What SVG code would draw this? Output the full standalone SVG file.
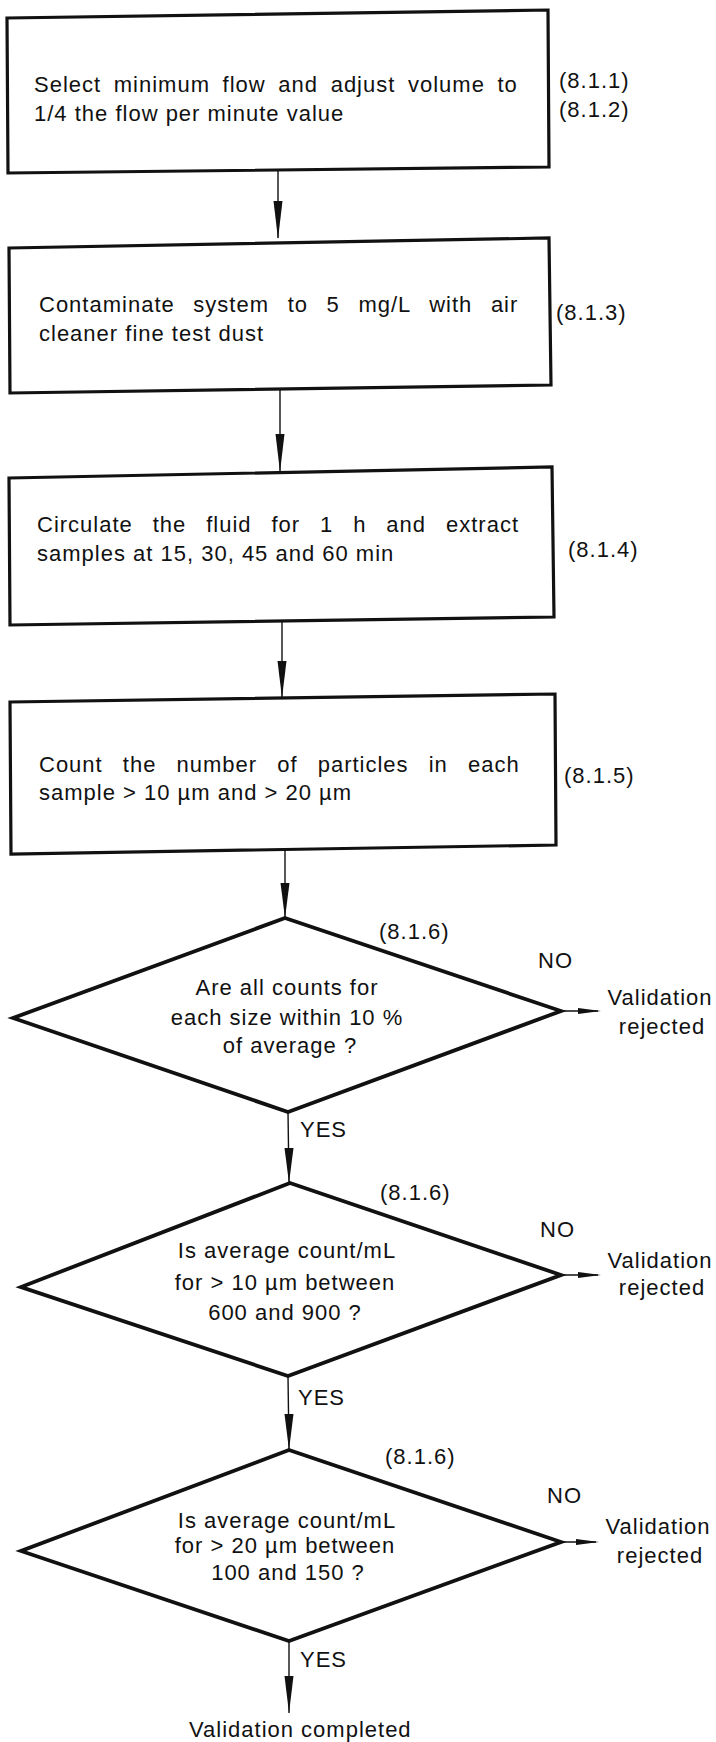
<svg xmlns="http://www.w3.org/2000/svg" width="716" height="1742" viewBox="0 0 716 1742">
<style>
text{font-family:"Liberation Sans",Arial,sans-serif;font-size:22px;fill:#111;letter-spacing:1px}
.box{fill:none;stroke:#111;stroke-width:3.2;stroke-linejoin:miter}
.dia{fill:none;stroke:#111;stroke-width:3.8;stroke-linejoin:miter}
.ln{fill:none;stroke:#111;stroke-width:1.4}
.hd{fill:#111;stroke:none}
.mid{text-anchor:middle}
</style>
<rect x="0" y="0" width="716" height="1742" fill="#fff"/>
<g id="n1">
<polygon class="box" points="7,18 548,10 549,167 8,173"/>
<text x="34" y="92" style="word-spacing:5.5px">Select minimum flow and adjust volume to</text>
<text x="34" y="121">1/4 the flow per minute value</text>
<text x="559" y="88">(8.1.1)</text>
<text x="559" y="117">(8.1.2)</text>
</g>
<g id="n2">
<polygon class="box" points="9,248 549,238 551,385 10,393"/>
<text x="39" y="312" style="word-spacing:11.5px">Contaminate system to 5 mg/L with air</text>
<text x="39" y="341">cleaner fine test dust</text>
<text x="556" y="320">(8.1.3)</text>
</g>
<g id="n3">
<polygon class="box" points="9,478 552,467 554,617 10,625"/>
<text x="37" y="532" style="word-spacing:12.8px">Circulate the fluid for 1 h and extract</text>
<text x="37" y="561">samples at 15, 30, 45 and 60 min</text>
<text x="568" y="557">(8.1.4)</text>
</g>
<g id="n4">
<polygon class="box" points="10,702 555,694 556,845 11,854"/>
<text x="39" y="772" style="word-spacing:13px">Count the number of particles in each</text>
<text x="39" y="800">sample &gt; 10 µm and &gt; 20 µm</text>
<text x="564" y="783">(8.1.5)</text>
</g>
<g id="d1">
<polygon class="dia" points="285,918 561,1011 288,1112 13,1018"/>
<text class="mid" x="287" y="995">Are all counts for</text>
<text class="mid" x="287" y="1025">each size within 10 %</text>
<text class="mid" x="290" y="1053">of average ?</text>
<text x="379" y="939">(8.1.6)</text>
<text x="538" y="968">NO</text>
</g>
<g id="r1">
<text class="mid" x="660" y="1005">Validation</text>
<text class="mid" x="662" y="1034">rejected</text>
</g>
<g id="d2">
<polygon class="dia" points="290,1183 561,1275 288,1376 21,1287"/>
<text class="mid" x="287" y="1258">Is average count/mL</text>
<text class="mid" x="285" y="1290">for &gt; 10 µm between</text>
<text class="mid" x="285" y="1320">600 and 900 ?</text>
<text x="380" y="1200">(8.1.6)</text>
<text x="540" y="1237">NO</text>
</g>
<g id="r2">
<text class="mid" x="660" y="1268">Validation</text>
<text class="mid" x="662" y="1295">rejected</text>
</g>
<g id="d3">
<polygon class="dia" points="289,1450 561,1542 289,1641 21,1551"/>
<text class="mid" x="287" y="1528">Is average count/mL</text>
<text class="mid" x="285" y="1553">for &gt; 20 µm between</text>
<text class="mid" x="288" y="1580">100 and 150 ?</text>
<text x="385" y="1464">(8.1.6)</text>
<text x="547" y="1503">NO</text>
</g>
<g id="r3">
<text class="mid" x="658" y="1534">Validation</text>
<text class="mid" x="660" y="1563">rejected</text>
</g>
<g id="end">
<text x="189" y="1737">Validation completed</text>
</g>
<g id="connectors">
<line class="ln" x1="278" y1="170" x2="278" y2="238"/>
<polygon class="hd" points="273.5,201 282.5,201 278,239"/>
<line class="ln" x1="280" y1="389" x2="280" y2="472"/>
<polygon class="hd" points="275.5,434 284.5,434 280,472"/>
<line class="ln" x1="282" y1="621" x2="282" y2="698"/>
<polygon class="hd" points="277.5,661 286.5,661 282,698"/>
<line class="ln" x1="285" y1="850" x2="285" y2="918"/>
<polygon class="hd" points="280.5,883 289.5,883 285,918"/>
<line class="ln" x1="288" y1="1112" x2="289" y2="1183"/>
<polygon class="hd" points="284.5,1148 293.5,1148 289,1183"/>
<text x="300" y="1137">YES</text>
<line class="ln" x1="288" y1="1376" x2="289" y2="1450"/>
<polygon class="hd" points="284.5,1414 293.5,1414 289,1450"/>
<text x="298" y="1405">YES</text>
<line class="ln" x1="289" y1="1641" x2="289" y2="1713"/>
<polygon class="hd" points="284.5,1676 293.5,1676 289,1713"/>
<text x="300" y="1667">YES</text>
<line class="ln" x1="561" y1="1011" x2="598" y2="1011"/>
<polygon class="hd" points="578,1008 601,1011 578,1014"/>
<line class="ln" x1="561" y1="1275" x2="598" y2="1275"/>
<polygon class="hd" points="578,1272 601,1275 578,1278"/>
<line class="ln" x1="561" y1="1542" x2="596" y2="1542"/>
<polygon class="hd" points="576,1539 599,1542 576,1545"/>
</g>
</svg>
